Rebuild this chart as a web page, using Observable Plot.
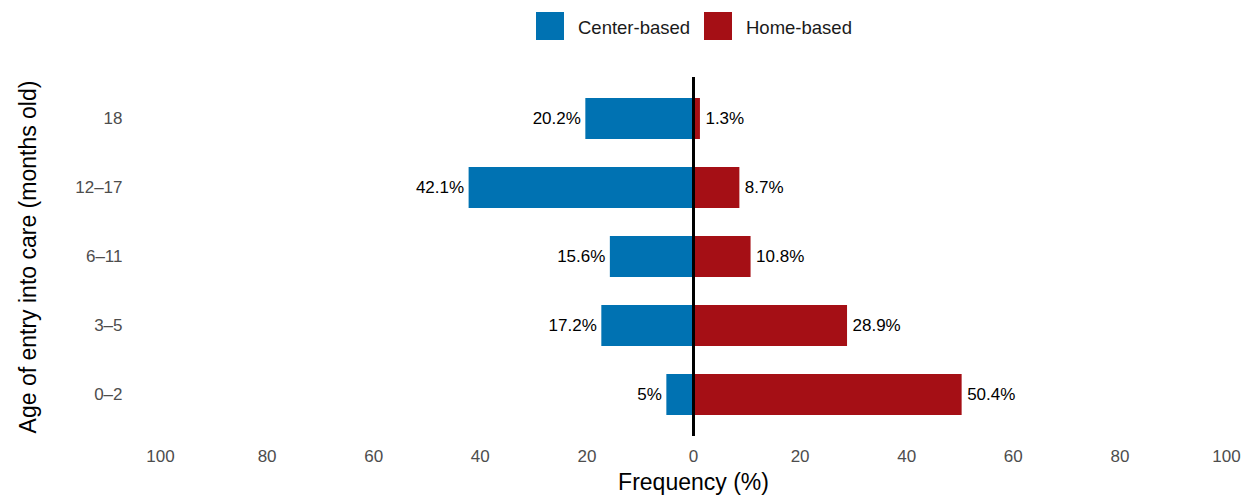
<!DOCTYPE html>
<html>
<head>
<meta charset="utf-8">
<script src="https://cdn.jsdelivr.net/npm/d3@7"></script>
<script src="https://cdn.jsdelivr.net/npm/@observablehq/plot@0.6"></script>
<style>
  html, body { margin: 0; padding: 0; background: #fff; }
  body { font-family: "Liberation Sans", Arial, sans-serif; width: 1255px; height: 497px; overflow: hidden; }
  #legend { position: relative; height: 56px; width: 1255px; }
  .sw { position: absolute; top: 12px; width: 28px; height: 28px; }
  .lt { position: absolute; top: 28px; transform: translateY(-50%); font-size: 18.5px; color: #1a1a1a; white-space: nowrap; }
</style>
</head>
<body>
<div id="legend"></div>
<div id="chart"></div>
<script>
const ages = ["18", "12–17", "6–11", "3–5", "0–2"];
const centerBased = [20.2, 42.1, 15.6, 17.2, 5];
const homeBased = [1.3, 8.7, 10.8, 28.9, 50.4];
const seriesNames = ["Center-based", "Home-based"];
const seriesColors = ["#0072B2", "#A50F15"];
const xTicks = [-100, -80, -60, -40, -20, 0, 20, 40, 60, 80, 100];
const xTitle = "Frequency (%)";
const yTitle = "Age of entry into care (months old)";

const data = ages.flatMap((a, i) => [
  {age: a, type: seriesNames[0], value: centerBased[i], x1: -centerBased[i], x2: 0},
  {age: a, type: seriesNames[1], value: homeBased[i], x1: 0, x2: homeBased[i]}
]);
const fmt = d => d.value + "%";

// legend (HTML, above the plot)
const legend = document.getElementById("legend");
const swLeft = [536, 704], txtLeft = [578, 746];
seriesNames.forEach((name, i) => {
  const sw = document.createElement("div");
  sw.className = "sw"; sw.style.left = swLeft[i] + "px"; sw.style.background = seriesColors[i];
  legend.appendChild(sw);
  const t = document.createElement("div");
  t.className = "lt"; t.style.left = txtLeft[i] + "px"; t.textContent = name;
  legend.appendChild(t);
});

const font = "Liberation Sans, Arial, sans-serif";
const chart = Plot.plot({
  width: 1255,
  height: 441,
  marginTop: 21,
  marginBottom: 61,
  marginLeft: 160,
  marginRight: 29,
  style: {fontFamily: font, color: "#4D4D4D", background: "#fff"},
  x: {domain: [-100, 100]},
  y: {domain: ages, paddingInner: 0.4, paddingOuter: 0.3},
  color: {domain: seriesNames, range: seriesColors},
  marks: [
    Plot.barX(data, {y: "age", x1: "x1", x2: "x2", fill: "type"}),
    Plot.ruleX([0], {stroke: "#000", strokeWidth: 3}),
    Plot.text(data.filter(d => d.type === seriesNames[0]), {x: "x1", y: "age", text: fmt, textAnchor: "end", dx: -5, fontSize: 17, fill: "#000"}),
    Plot.text(data.filter(d => d.type === seriesNames[1]), {x: "x2", y: "age", text: fmt, textAnchor: "start", dx: 5, fontSize: 17, fill: "#000"}),
    Plot.axisX({ticks: xTicks, tickFormat: d => Math.abs(d), tickSize: 0, tickPadding: 13, fontSize: 17, label: null}),
    Plot.axisY({tickSize: 0, tickPadding: 38, fontSize: 17, label: null}),
    Plot.text([xTitle], {frameAnchor: "bottom", dy: 46, lineAnchor: "middle", textAnchor: "middle", fontSize: 23, fill: "#000"}),
    Plot.text([yTitle], {frameAnchor: "left", dx: -132, rotate: -90, lineAnchor: "middle", textAnchor: "middle", fontSize: 23, fill: "#000"})
  ]
});
document.getElementById("chart").appendChild(chart);
</script>
</body>
</html>
